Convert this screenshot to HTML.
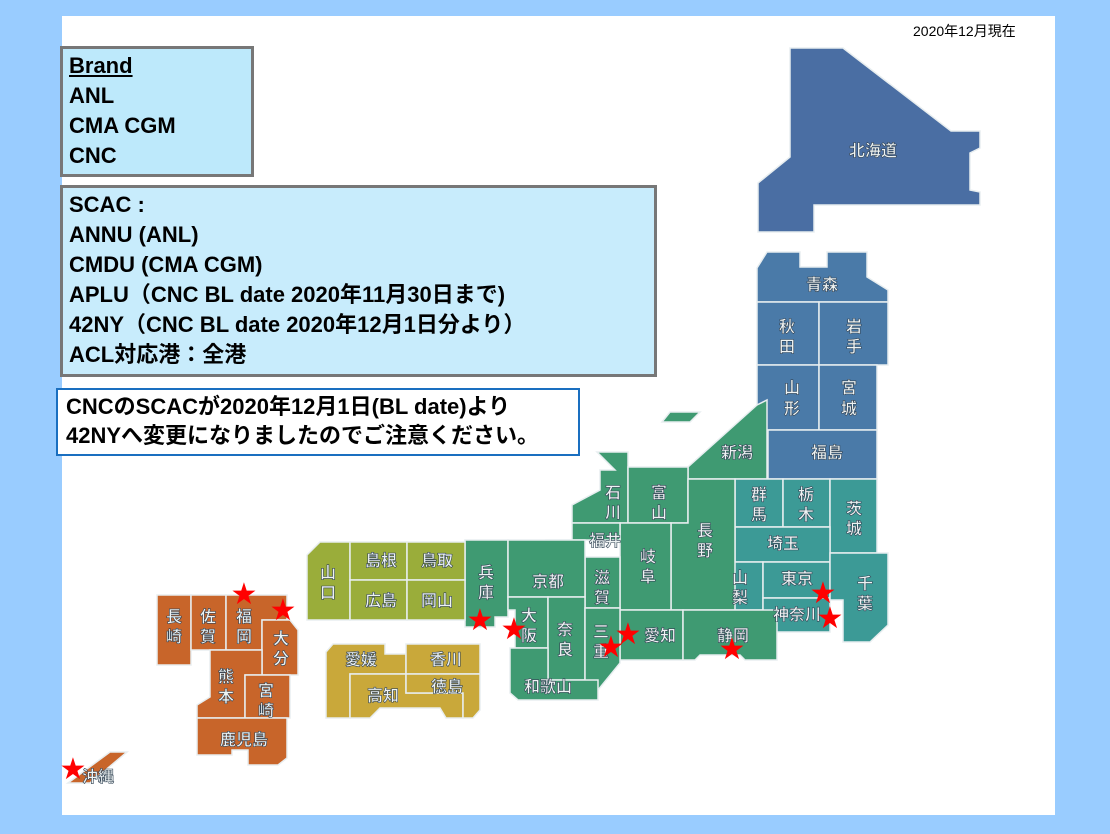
<!DOCTYPE html>
<html><head><meta charset="utf-8"><style>
body{margin:0;width:1110px;height:834px;background:#99ccff;position:relative;overflow:hidden;font-family:"Liberation Sans","Noto Sans CJK JP",sans-serif}
.panel{position:absolute;left:62px;top:16px;width:993px;height:799px;background:#fff}
.box{position:absolute;font-weight:bold;font-size:22px;line-height:30px;color:#000}
svg{position:absolute;left:0;top:0}
</style></head><body>
<div class="panel"></div>
<div style="position:absolute;left:913px;top:21px;font-size:14px">2020年12月現在</div>
<div class="box" style="left:60px;top:46px;width:194px;height:131px;background:#bde9fb;border:3px solid #777;box-sizing:border-box;padding:2px 6px"><u>Brand</u><br>ANL<br>CMA CGM<br>CNC</div>
<div class="box" style="left:60px;top:185px;width:597px;height:192px;background:#c8ecfc;border:3px solid #777;box-sizing:border-box;padding:2px 6px">SCAC :<br>ANNU (ANL)<br>CMDU (CMA CGM)<br>APLU（CNC BL date 2020年11月30日まで)<br>42NY（CNC BL date 2020年12月1日分より）<br>ACL対応港：全港</div>
<div class="box" style="left:56px;top:388px;width:524px;height:68px;background:#fff;border:2px solid #1a6fc0;box-sizing:border-box;padding:2px 8px;line-height:29px">CNCのSCACが2020年12月1日(BL date)より<br>42NYへ変更になりましたのでご注意ください。</div>
<svg width="1110" height="834" font-family="Liberation Sans,Noto Sans CJK JP,sans-serif" font-weight="bold" font-size="16">
<g stroke="#e8eef0" stroke-width="1.5">
<polygon fill="#4a6ea3" points="790,48 843,48 951,131 980,131 980,148 970,153 970,190 980,192 980,205 814,205 814,232 758,232 758,183 790,157"/>
<g fill="#4a7aa8">
<polygon points="767,252 800,252 800,267 827,267 827,252 867,252 867,277 888,290 888,302 757,302 757,268"/>
<rect x="757" y="302" width="62" height="63"/><rect x="819" y="302" width="69" height="63"/>
<rect x="757" y="365" width="62" height="65"/><rect x="819" y="365" width="58" height="65"/>
<rect x="768" y="430" width="109" height="49"/></g>
<polygon fill="#3f9a72" points="688,479 688,467 757,405 767,400 767,479"/>
<polygon fill="#3f9a72" points="662,422 670,412 700,412 690,422"/>
<g fill="#3c9a96">
<rect x="735" y="479" width="48" height="48"/><rect x="783" y="479" width="47" height="48"/>
<rect x="830" y="479" width="47" height="74"/><rect x="735" y="527" width="95" height="35"/>
<rect x="715" y="562" width="48" height="48"/><rect x="763" y="562" width="67" height="36"/>
<rect x="763" y="598" width="67" height="34"/>
<polygon points="830,553 888,553 888,625 870,642 843,642 843,600 830,600"/></g>
<g fill="#3f9a72">
<polygon points="597,452 628,452 628,523 600,523 572,523 572,505 600,490 600,470 615,470"/>
<rect x="628" y="467" width="60" height="56"/>
<polygon points="688,479 735,479 735,610 671,610 671,523 688,523"/>
<rect x="620" y="523" width="51" height="87"/>
<rect x="620" y="610" width="63" height="50"/>
<polygon points="683,610 777,610 777,660 745,660 740,655 700,655 695,660 683,660"/>
<polygon points="572,523 620,523 620,540 572,540 560,548 546,548 546,540 572,540"/>
<rect x="585" y="557" width="35" height="51"/>
<polygon points="465,540 508,540 508,617 495,617 495,627 478,627 465,627"/>
<rect x="508" y="540" width="77" height="57"/>
<polygon points="508,597 548,597 548,648 515,648 515,610 508,610"/>
<rect x="548" y="597" width="37" height="83"/>
<polygon points="585,608 620,608 620,663 598,690 585,690"/>
<polygon points="510,648 548,648 548,680 598,680 598,700 518,700 510,693"/></g>
<g fill="#9aad3a">
<polygon points="320,542 350,542 350,620 307,620 307,555"/>
<rect x="350" y="542" width="57" height="38"/><rect x="407" y="542" width="58" height="38"/>
<rect x="350" y="580" width="57" height="40"/><rect x="407" y="580" width="58" height="40"/></g>
<g fill="#c9a83a">
<polygon points="333,644 385,644 385,654 406,654 406,674 350,674 350,718 326,718 326,652"/>
<polygon points="350,674 406,674 406,693 463,693 463,718 446,718 440,708 380,708 370,718 350,718"/>
<rect x="406" y="644" width="74" height="30"/>
<polygon points="406,674 480,674 480,710 473,718 463,718 463,693 406,693"/></g>
<g fill="#c8652a">
<rect x="157" y="595" width="34" height="70"/><rect x="191" y="595" width="35" height="55"/>
<polygon points="226,595 287,595 287,620 262,620 262,650 226,650"/>
<polygon points="262,620 290,620 298,630 298,675 262,675"/>
<polygon points="210,650 262,650 262,675 245,675 245,718 197,718 197,705 210,697"/>
<polygon points="245,675 290,675 290,718 245,718"/>
<polygon points="197,718 287,718 287,758 278,765 248,765 248,750 232,750 232,755 197,755"/>
<polygon points="68,783 110,752 127,752 90,783"/></g>
</g>
<g fill="#eef3f3" stroke="#345" stroke-width="0.6" text-anchor="middle">
<text x="873" y="156">北海道</text><text x="822" y="290">青森</text>
<text x="787" y="332">秋</text><text x="787" y="352">田</text>
<text x="854" y="332">岩</text><text x="854" y="352">手</text>
<text x="792" y="393">山</text><text x="792" y="414">形</text>
<text x="849" y="393">宮</text><text x="849" y="414">城</text>
<text x="827" y="458">福島</text><text x="737" y="458">新潟</text>
<text x="759" y="500">群</text><text x="759" y="520">馬</text>
<text x="806" y="500">栃</text><text x="806" y="520">木</text>
<text x="854" y="514">茨</text><text x="854" y="534">城</text>
<text x="783" y="549">埼玉</text>
<text x="740" y="583">山</text><text x="740" y="603">梨</text>
<text x="797" y="584">東京</text><text x="797" y="620">神奈川</text>
<text x="865" y="589">千</text><text x="865" y="609">葉</text>
<text x="613" y="498">石</text><text x="613" y="518">川</text>
<text x="659" y="498">富</text><text x="659" y="518">山</text>
<text x="605" y="546">福井</text>
<text x="705" y="536">長</text><text x="705" y="556">野</text>
<text x="648" y="562">岐</text><text x="648" y="582">阜</text>
<text x="660" y="641">愛知</text><text x="733" y="641">静岡</text>
<text x="602" y="583">滋</text><text x="602" y="603">賀</text>
<text x="486" y="578">兵</text><text x="486" y="598">庫</text>
<text x="548" y="587">京都</text>
<text x="529" y="621">大</text><text x="529" y="641">阪</text>
<text x="565" y="635">奈</text><text x="565" y="655">良</text>
<text x="601" y="637">三</text><text x="601" y="657">重</text>
<text x="548" y="692">和歌山</text>
<text x="328" y="578">山</text><text x="328" y="598">口</text>
<text x="381" y="566">島根</text><text x="437" y="566">鳥取</text>
<text x="381" y="606">広島</text><text x="437" y="606">岡山</text>
<text x="361" y="665">愛媛</text><text x="446" y="665">香川</text>
<text x="383" y="701">高知</text><text x="447" y="692">徳島</text>
<text x="174" y="622">長</text><text x="174" y="642">崎</text>
<text x="208" y="622">佐</text><text x="208" y="642">賀</text>
<text x="244" y="622">福</text><text x="244" y="642">岡</text>
<text x="281" y="644">大</text><text x="281" y="664">分</text>
<text x="226" y="682">熊</text><text x="226" y="702">本</text>
<text x="266" y="696">宮</text><text x="266" y="716">崎</text>
<text x="244" y="745">鹿児島</text><text x="98" y="782">沖縄</text>
</g>
<g fill="#ff0000" font-size="30" text-anchor="middle" font-family="DejaVu Sans,sans-serif">
<text x="244" y="604">★</text><text x="283" y="620">★</text><text x="480" y="630">★</text>
<text x="514" y="639">★</text><text x="628" y="644">★</text><text x="611" y="657">★</text>
<text x="823" y="603">★</text><text x="830" y="628">★</text><text x="732" y="659">★</text>
<text x="73" y="779">★</text></g>
</svg>
</body></html>
